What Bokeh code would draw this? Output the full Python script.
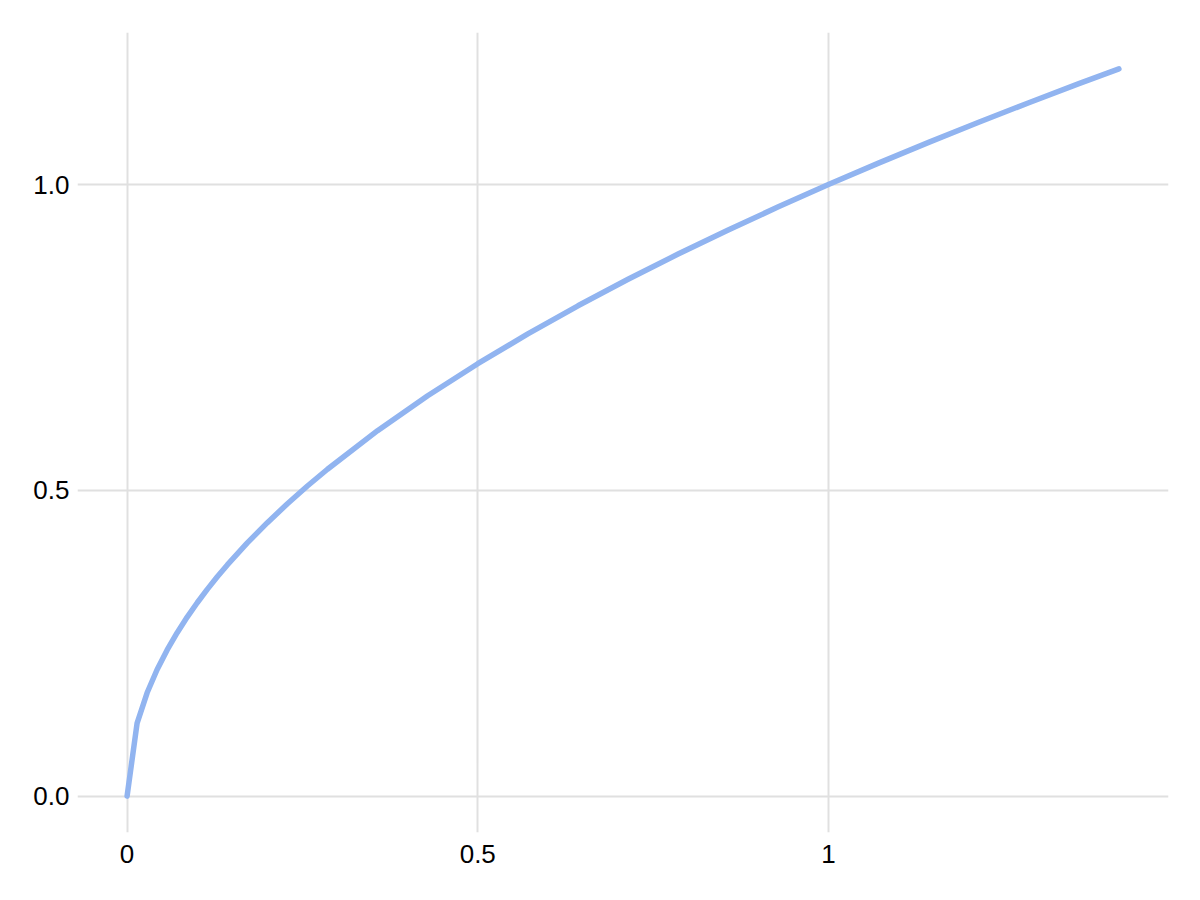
from bokeh.plotting import figure
from bokeh.models import FixedTicker, Range1d
from bokeh.embed import file_html
from bokeh.resources import INLINE

# data
x_vals = [0.0, 0.01429, 0.02857, 0.04286, 0.05714, 0.07143, 0.08571, 0.1000, 0.1143, 0.1286,
          0.1429, 0.1714, 0.2000, 0.2286, 0.2571, 0.2857, 0.3571, 0.4286, 0.5000, 0.5714,
          0.6429, 0.7143, 0.7857, 0.8571, 0.9286, 1.0000, 1.0714, 1.1429, 1.2143, 1.2857,
          1.3571, 1.4142]
y_vals = [0.0, 0.1195, 0.1690, 0.2070, 0.2390, 0.2673, 0.2928, 0.3162, 0.3381, 0.3586,
          0.3780, 0.4140, 0.4472, 0.4781, 0.5071, 0.5345, 0.5976, 0.6547, 0.7071, 0.7559,
          0.8018, 0.8452, 0.8864, 0.9258, 0.9636, 1.0000, 1.0351, 1.0690, 1.1019, 1.1339,
          1.1650, 1.1892]
x_ticks = [0.0, 0.5, 1.0]
x_tick_labels = ["0", "0.5", "1"]
y_ticks = [0.0, 0.5, 1.0]
y_tick_labels = ["0.0", "0.5", "1.0"]

p = figure(width=1200, height=900, output_backend="svg", toolbar_location=None,
           x_range=Range1d(-0.0707, 1.4849), y_range=Range1d(-0.0595, 1.2487),
           min_border_left=77, min_border_right=32, min_border_top=32, min_border_bottom=68)
p.outline_line_color = None
p.background_fill_color = "white"
p.border_fill_color = "white"

p.line(x_vals, y_vals, line_color="#91b4f0", line_width=5.5, line_cap="round", line_join="round")

for ax, ticks, labels in ((p.xaxis[0], x_ticks, x_tick_labels), (p.yaxis[0], y_ticks, y_tick_labels)):
    ax.ticker = FixedTicker(ticks=ticks)
    ax.major_label_overrides = {t: l for t, l in zip(ticks, labels)}
    ax.axis_line_color = None
    ax.major_tick_line_color = None
    ax.minor_tick_line_color = None
    ax.major_label_text_font = "Liberation Sans"
    ax.major_label_text_font_size = "26px"
    ax.major_label_text_color = "black"
p.yaxis[0].major_label_standoff = 2
p.xaxis[0].major_label_standoff = 6

for g in (p.xgrid[0], p.ygrid[0]):
    g.grid_line_color = "#e0e0e0"
    g.grid_line_width = 2
p.xgrid[0].ticker = FixedTicker(ticks=x_ticks)
p.ygrid[0].ticker = FixedTicker(ticks=y_ticks)

open("out.html", "w").write(file_html(p, INLINE))
